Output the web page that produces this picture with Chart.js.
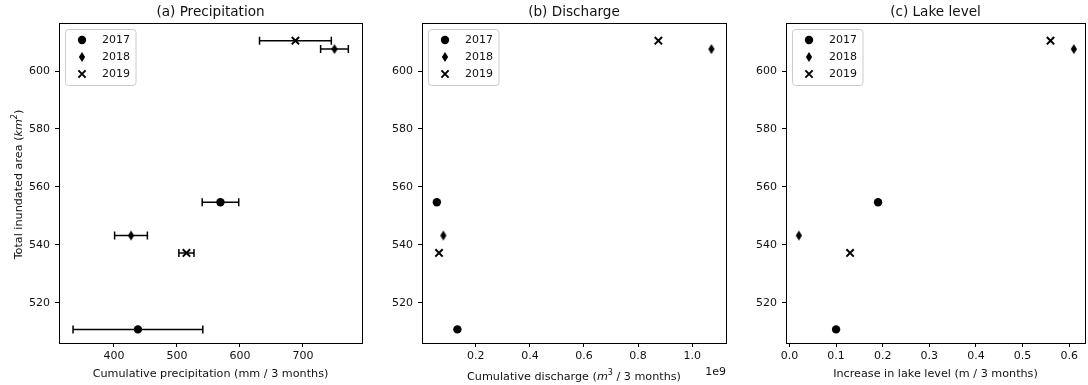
<!DOCTYPE html>
<html>
<head>
<meta charset="utf-8">
<script src="https://cdn.jsdelivr.net/npm/chart.js@4"></script>
<style>
  body { margin: 0; background: #fff; }
  #wrap { position: relative; width: 1088px; height: 385px; overflow: hidden; }
  canvas { position: absolute; top: 0; }
</style>
</head>
<body>
<div id="wrap">
  <canvas id="pa" style="left:0px"></canvas>
  <canvas id="pb" style="left:368px"></canvas>
  <canvas id="pc" style="left:730px"></canvas>
</div>
<script>
// data
const years = ['2017', '2018', '2019'];
const area2017 = [510.8, 554.7];
const area2018 = [543.2, 607.6];
const area2019 = [537.2, 610.5];

const precip2017 = [438, 569];
const precip2018 = [427, 750];
const precip2019 = [515, 688];
const precipErr2017 = [103, 29];
const precipErr2018 = [26, 22];
const precipErr2019 = [12, 57];

const discharge2017 = [0.132e9, 0.056e9];
const discharge2018 = [0.080e9, 1.071e9];
const discharge2019 = [0.064e9, 0.875e9];

const lake2017 = [0.10, 0.19];
const lake2018 = [0.02, 0.61];
const lake2019 = [0.13, 0.56];

const yTicks = [520, 540, 560, 580, 600];
const precipTicks = [400, 500, 600, 700];
const dischargeTicks = [0.2e9, 0.4e9, 0.6e9, 0.8e9, 1.0e9];
const lakeTicks = [0.0, 0.1, 0.2, 0.3, 0.4, 0.5, 0.6];

const FONT = 'DejaVu Sans';
const INK = '#111';

// thin diamond marker (matplotlib 'd')
function thinDiamond() {
    var c = document.createElement('canvas');
    c.width = 8; c.height = 12;
    var g = c.getContext('2d');
    g.fillStyle = '#000';
    g.beginPath();
    g.moveTo(4, 1); g.lineTo(7.1, 6); g.lineTo(4, 11); g.lineTo(0.9, 6);
    g.closePath();
    g.fill();
    return c;
}
const diamondImg = thinDiamond();

const markers = [
    {pointStyle: 'circle', pointRadius: 4.2, pointBorderWidth: 0, pointBackgroundColor: '#000'},
    {pointStyle: diamondImg, pointRadius: 4, pointBorderWidth: 0, pointBackgroundColor: '#000'},
    {pointStyle: 'crossRot', pointRadius: 5.2, pointBorderWidth: 2, pointBorderColor: '#000'}
];

function drawMarker(ctx, i, x, y) {
    ctx.save();
    ctx.fillStyle = '#000';
    ctx.strokeStyle = '#000';
    if (i === 0) {
        ctx.beginPath(); ctx.arc(x, y, 4.2, 0, Math.PI * 2); ctx.fill();
    } else if (i === 1) {
        ctx.drawImage(diamondImg, x - 4, y - 6);
    } else {
        var d = 3.6;
        ctx.lineWidth = 2;
        ctx.beginPath();
        ctx.moveTo(x - d, y - d); ctx.lineTo(x + d, y + d);
        ctx.moveTo(x - d, y + d); ctx.lineTo(x + d, y - d);
        ctx.stroke();
    }
    ctx.restore();
}

// rich text: segments {t, i (italic), s (superscript)}
function segFont(seg, size) {
    return (seg.i ? 'italic ' : '') + (seg.s ? Math.round(size * 0.7) : size) + 'px "' + FONT + '"';
}
function drawRich(ctx, segs, cx, baseY, size) {
    var total = 0;
    segs.forEach(function(s) { ctx.font = segFont(s, size); total += ctx.measureText(s.t).width; });
    var x = cx - total / 2;
    ctx.textAlign = 'left';
    ctx.textBaseline = 'alphabetic';
    segs.forEach(function(s) {
        ctx.font = segFont(s, size);
        ctx.fillText(s.t, x, s.s ? baseY - size * 0.42 : baseY);
        x += ctx.measureText(s.t).width;
    });
}

const decorPlugin = {
    id: 'decor',
    beforeDatasetsDraw: function(chart, args, opts) {
        if (!opts.errs) return;
        var ctx = chart.ctx, xs = chart.scales.x, ys = chart.scales.y;
        ctx.save();
        ctx.strokeStyle = '#000';
        ctx.lineWidth = 1.5;
        chart.data.datasets.forEach(function(ds, di) {
            ds.data.forEach(function(p, k) {
                var e = opts.errs[di][k];
                var x0 = xs.getPixelForValue(p.x - e), x1 = xs.getPixelForValue(p.x + e);
                var y = ys.getPixelForValue(p.y);
                ctx.beginPath();
                ctx.moveTo(x0, y); ctx.lineTo(x1, y);
                ctx.moveTo(x0, y - 4); ctx.lineTo(x0, y + 4);
                ctx.moveTo(x1, y - 4); ctx.lineTo(x1, y + 4);
                ctx.stroke();
            });
        });
        ctx.restore();
    },
    afterDraw: function(chart, args, opts) {
        var ctx = chart.ctx, a = chart.chartArea;
        ctx.save();
        // spines
        ctx.strokeStyle = '#000';
        ctx.lineWidth = 1;
        ctx.strokeRect(Math.round(a.left) + 0.5, Math.round(a.top) + 0.5,
                       Math.round(a.right - a.left), Math.round(a.bottom - a.top));
        ctx.fillStyle = INK;
        // title
        ctx.font = '13.6px "' + FONT + '"';
        ctx.textAlign = 'center';
        ctx.textBaseline = 'middle';
        ctx.fillText(opts.title, (a.left + a.right) / 2, 12);
        // x label
        drawRich(ctx, opts.xlabel, (a.left + a.right) / 2, opts.xlabelY, 11.2);
        if (opts.ylabel) {
            ctx.save();
            ctx.translate(22, 184.5);
            ctx.rotate(-Math.PI / 2);
            drawRich(ctx, opts.ylabel, 0, 0, 11.2);
            ctx.restore();
        }
        if (opts.offset) {
            ctx.font = '11px "' + FONT + '"';
            ctx.textAlign = 'right';
            ctx.textBaseline = 'alphabetic';
            ctx.fillText(opts.offset, a.right, 375);
        }
        // legend
        var bx = a.left + 6, by = a.top + 6, bw = 70.5, bh = 56;
        ctx.beginPath();
        ctx.roundRect(bx + 0.5, by + 0.5, bw, bh, 3);
        ctx.fillStyle = 'rgba(255,255,255,0.8)';
        ctx.fill();
        ctx.strokeStyle = '#cccccc';
        ctx.stroke();
        ctx.font = '11px "' + FONT + '"';
        ctx.textAlign = 'left';
        ctx.textBaseline = 'middle';
        years.forEach(function(yr, i) {
            var yy = by + 11 + i * 17;
            drawMarker(ctx, i, bx + 17, yy);
            ctx.fillStyle = INK;
            ctx.fillText(yr, bx + 37, yy + 0.5);
        });
        ctx.restore();
    }
};

function pts(xv, yv) {
    return xv.map(function(v, k) { return {x: v, y: yv[k]}; });
}

function makePanel(id, width, yAxisW, padRight, xs, xr, xTicks, fmt, decor) {
    var canvas = document.getElementById(id);
    canvas.width = width;
    canvas.height = 385;
    canvas.style.width = width + 'px';
    canvas.style.height = '385px';
    var areas = [area2017, area2018, area2019];
    var datasets = years.map(function(yr, i) {
        return Object.assign({
            label: yr,
            data: pts(xs[i], areas[i]),
            showLine: false,
            clip: false
        }, markers[i]);
    });
    var tickStyle = {
        display: true, drawOnChartArea: false, drawTicks: true,
        tickLength: 4, color: '#000', lineWidth: 1
    };
    return new Chart(canvas, {
        type: 'scatter',
        data: {datasets: datasets},
        plugins: [decorPlugin],
        options: {
            responsive: false,
            animation: false,
            devicePixelRatio: 1,
            layout: {autoPadding: false, padding: {top: 23, right: padRight, left: 0, bottom: 0}},
            plugins: {
                legend: {display: false},
                tooltip: {enabled: false},
                decor: decor
            },
            scales: {
                x: {
                    type: 'linear', min: xr[0], max: xr[1],
                    grid: tickStyle,
                    border: {display: false},
                    ticks: {color: INK, font: {size: 11}, padding: 3, maxRotation: 0,
                            callback: fmt},
                    afterBuildTicks: function(s) { s.ticks = xTicks.map(function(v) { return {value: v}; }); },
                    afterFit: function(s) { s.height = 42; s.paddingLeft = 0; s.paddingRight = 0; }
                },
                y: {
                    type: 'linear', min: 506.1, max: 616.6,
                    grid: tickStyle,
                    border: {display: false},
                    ticks: {color: INK, font: {size: 11}, padding: 5,
                            callback: function(v) { return String(v); }},
                    afterBuildTicks: function(s) { s.ticks = yTicks.map(function(v) { return {value: v}; }); },
                    afterFit: function(s) { s.width = yAxisW; s.paddingTop = 0; s.paddingBottom = 0; }
                }
            }
        }
    });
}

Chart.defaults.font.family = FONT;
Chart.defaults.color = INK;

makePanel('pa', 368, 59, 6,
    [precip2017, precip2018, precip2019], [312.7, 793.7], precipTicks,
    function(v) { return String(v); },
    {
        title: '(a) Precipitation',
        xlabel: [{t: 'Cumulative precipitation (mm / 3 months)'}],
        xlabelY: 376.5,
        ylabel: [{t: 'Total inundated area ('}, {t: 'km', i: true}, {t: '2', i: true, s: true}, {t: ')'}],
        errs: [precipErr2017, precipErr2018, precipErr2019]
    });

makePanel('pb', 362, 54, 4,
    [discharge2017, discharge2018, discharge2019], [0.0011e9, 1.125e9], dischargeTicks,
    function(v) { return (v / 1e9).toFixed(1); },
    {
        title: '(b) Discharge',
        xlabel: [{t: 'Cumulative discharge ('}, {t: 'm', i: true}, {t: '3', s: true}, {t: ' / 3 months)'}],
        xlabelY: 379.5,
        offset: '1e9'
    });

makePanel('pc', 358, 56, 3,
    [lake2017, lake2018, lake2019], [-0.0075, 0.634], lakeTicks,
    function(v) { return v.toFixed(1); },
    {
        title: '(c) Lake level',
        xlabel: [{t: 'Increase in lake level (m / 3 months)'}],
        xlabelY: 376.5
    });
</script>
</body>
</html>
